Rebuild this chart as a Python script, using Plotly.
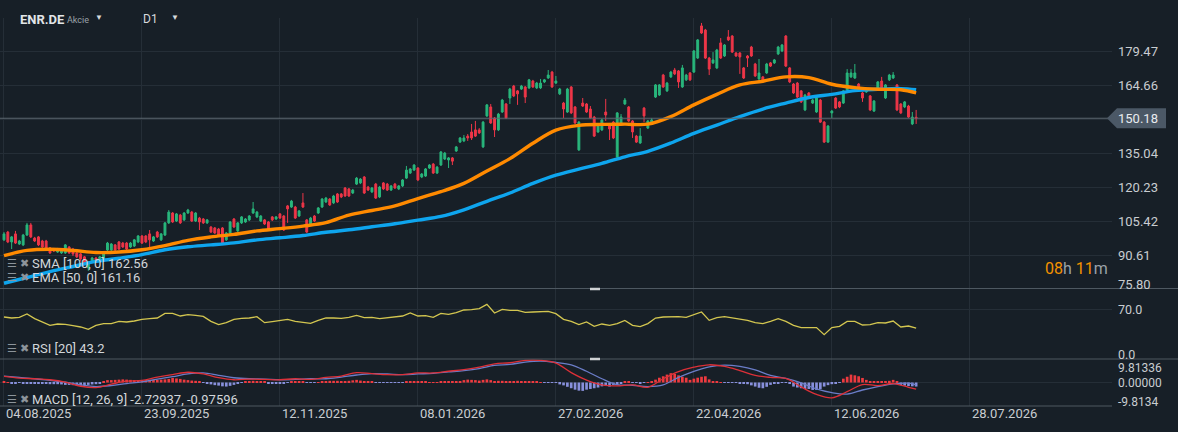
import plotly.graph_objects as go

# ENR.DE daily bars, bar 0 = 04.08.2025
open_ = [97.2, 100.6, 96.3, 99.8, 95.4, 95.0, 99.3, 103.7, 98.0, 98.5,
         96.7, 96.7, 93.7, 93.2, 91.9, 91.5, 91.5, 94.1, 93.2, 91.5,
         91.1, 89.8, 85.0, 87.6, 89.3, 88.0, 88.9, 92.8, 92.8, 95.0,
         96.3, 95.8, 95.8, 94.1, 94.5, 96.3, 98.9, 98.9, 99.8, 96.7,
         100.6, 97.2, 99.3, 104.6, 108.9, 105.4, 108.0, 105.9, 108.9, 109.3,
         105.4, 106.7, 106.3, 104.6, 102.8, 102.4, 101.9, 102.4, 97.2, 100.2,
         106.3, 101.1, 104.6, 105.0, 105.9, 108.9, 107.2, 105.4, 105.9, 105.0,
         107.2, 106.3, 108.5, 107.6, 112.0, 111.5, 111.5, 107.6, 113.3, 105.9,
         104.1, 107.6, 108.9, 111.5, 113.7, 115.0, 113.3, 117.2, 117.2, 119.8,
         119.4, 117.6, 121.5, 122.0, 124.6, 120.2, 118.1, 121.5, 115.9, 122.0,
         121.5, 118.9, 121.5, 119.4, 120.7, 124.1, 126.3, 127.6, 128.5, 124.6,
         125.0, 128.5, 130.2, 126.3, 129.8, 132.4, 132.0, 132.9, 135.9, 139.8,
         140.3, 142.4, 144.2, 145.1, 145.1, 137.7, 151.2, 155.1, 150.3, 145.1,
         152.9, 156.4, 159.0, 164.2, 162.1, 162.9, 163.8, 163.4, 166.4, 163.4,
         163.4, 166.0, 167.7, 170.3, 165.5, 160.8, 156.8, 152.9, 163.8, 155.1,
         136.4, 156.8, 156.4, 154.2, 150.7, 144.2, 145.1, 152.9, 146.8, 148.5,
         133.3, 148.1, 156.4, 155.1, 149.0, 142.4, 139.4, 154.6, 145.9, 148.1,
         159.4, 160.3, 169.0, 162.1, 168.2, 171.2, 170.8, 163.8, 166.9, 169.9,
         170.3, 176.4, 190.4, 188.6, 176.4, 174.3, 172.1, 183.0, 177.3, 185.6,
         186.0, 178.6, 178.6, 172.1, 177.3, 181.2, 173.8, 167.3, 168.2, 169.9,
         174.3, 174.3, 178.2, 179.5, 186.0, 172.1, 165.1, 165.5, 162.1, 153.8,
         161.2, 156.8, 152.9, 158.1, 148.5, 139.8, 152.5, 159.0, 157.3, 156.8,
         162.5, 168.2, 167.7, 165.1, 161.2, 161.6, 159.9, 153.3, 163.4, 166.4,
         159.0, 166.9, 167.7, 164.7, 156.4, 155.1, 155.5, 147.7, 150.6]
high_ = [100.6, 101.1, 98.9, 101.1, 97.2, 99.8, 104.6, 104.6, 98.5, 98.9,
         97.2, 97.2, 94.1, 93.7, 93.7, 93.2, 95.4, 94.5, 93.7, 91.9,
         91.5, 90.2, 88.0, 89.8, 89.8, 90.2, 91.9, 96.3, 95.8, 95.4,
         96.7, 96.3, 96.3, 96.3, 97.6, 99.3, 99.3, 99.3, 101.5, 98.9,
         101.1, 100.2, 105.0, 110.2, 109.3, 108.9, 108.5, 109.3, 110.7, 109.8,
         109.3, 107.2, 106.7, 106.3, 103.2, 102.8, 102.4, 102.8, 100.6, 105.4,
         106.7, 105.0, 107.6, 106.7, 108.0, 113.7, 109.8, 108.0, 106.3, 105.4,
         107.6, 107.6, 108.9, 108.0, 112.4, 114.6, 112.0, 110.2, 117.6, 106.3,
         107.2, 108.0, 111.5, 115.4, 115.9, 115.4, 116.8, 117.6, 117.6, 120.2,
         119.8, 119.4, 124.6, 124.1, 125.0, 120.7, 120.2, 122.0, 120.7, 122.4,
         122.0, 121.1, 122.0, 121.1, 123.7, 129.4, 128.5, 130.2, 128.9, 126.3,
         128.5, 130.2, 130.7, 129.4, 135.9, 135.5, 133.3, 133.3, 138.1, 142.0,
         142.9, 143.3, 147.7, 149.0, 145.9, 149.0, 156.4, 156.4, 150.7, 152.5,
         158.6, 156.8, 163.4, 164.7, 162.5, 164.7, 164.2, 167.3, 166.9, 166.0,
         167.3, 167.3, 171.2, 170.8, 168.6, 163.4, 157.3, 163.4, 164.2, 155.5,
         149.0, 159.0, 156.8, 155.5, 151.2, 147.2, 149.9, 158.6, 147.2, 149.0,
         152.9, 152.0, 159.0, 155.5, 149.4, 142.9, 145.9, 155.1, 149.4, 150.3,
         165.1, 165.1, 169.5, 166.0, 170.8, 172.1, 171.2, 173.4, 169.5, 170.3,
         179.9, 184.7, 191.7, 189.1, 176.9, 179.0, 180.4, 185.1, 182.5, 188.6,
         186.4, 179.0, 179.0, 172.5, 177.7, 181.7, 174.3, 176.0, 168.6, 174.3,
         174.7, 176.0, 181.7, 182.5, 186.4, 172.5, 165.5, 166.0, 162.5, 160.8,
         161.6, 158.6, 159.4, 158.6, 149.0, 147.2, 153.8, 159.4, 157.7, 162.5,
         171.6, 171.6, 173.8, 165.5, 161.6, 163.4, 160.3, 158.1, 166.4, 168.2,
         165.1, 169.5, 170.3, 165.1, 156.8, 157.7, 156.0, 152.9, 153.8]
low_ = [96.7, 95.8, 93.2, 95.4, 95.0, 94.5, 98.9, 98.0, 96.3, 94.5,
        93.7, 93.2, 91.1, 91.9, 91.5, 91.1, 91.1, 91.1, 90.2, 89.3,
        88.0, 86.7, 83.7, 87.1, 87.1, 87.6, 88.4, 92.4, 92.4, 92.4,
        92.8, 93.7, 91.9, 93.7, 94.1, 95.8, 95.4, 95.8, 93.7, 96.3,
        98.0, 96.7, 98.9, 104.1, 104.6, 105.0, 104.1, 105.4, 108.5, 105.0,
        105.0, 101.5, 104.1, 104.1, 100.2, 99.8, 98.9, 95.0, 96.7, 99.8,
        102.4, 100.6, 104.1, 104.6, 105.4, 108.5, 106.7, 105.0, 103.7, 101.5,
        105.4, 105.9, 106.3, 101.1, 104.6, 111.1, 106.3, 107.2, 111.1, 100.2,
        103.7, 105.0, 108.5, 111.1, 113.3, 112.0, 112.8, 113.3, 115.4, 115.9,
        115.9, 117.2, 121.1, 121.5, 117.2, 118.5, 117.6, 115.0, 115.4, 118.9,
        118.5, 118.5, 119.4, 118.9, 120.2, 123.7, 125.9, 127.2, 122.8, 124.1,
        124.6, 128.1, 125.9, 125.9, 129.4, 132.0, 128.5, 129.8, 135.5, 139.4,
        139.8, 140.3, 140.7, 142.0, 143.3, 137.2, 150.7, 147.7, 142.0, 144.6,
        152.5, 149.9, 156.4, 159.4, 156.0, 162.5, 156.8, 162.9, 163.4, 162.9,
        162.9, 165.5, 167.3, 163.4, 165.1, 160.3, 150.3, 152.5, 152.0, 147.7,
        135.9, 155.1, 152.5, 149.9, 142.0, 143.8, 144.6, 149.0, 140.7, 141.1,
        132.9, 147.7, 156.0, 148.5, 141.6, 139.4, 139.0, 148.5, 145.5, 147.7,
        159.0, 159.9, 163.4, 161.6, 167.7, 169.0, 163.4, 163.4, 166.4, 166.4,
        169.9, 176.0, 186.9, 176.0, 169.0, 173.8, 171.6, 176.0, 176.9, 183.8,
        178.6, 176.9, 169.5, 167.3, 172.5, 176.9, 168.2, 166.9, 166.4, 169.5,
        172.5, 173.8, 177.7, 179.0, 172.5, 165.5, 160.8, 159.0, 156.8, 153.3,
        158.6, 156.4, 152.5, 148.1, 139.4, 139.4, 150.3, 154.2, 154.6, 156.4,
        162.1, 167.7, 167.3, 162.9, 157.3, 161.2, 153.3, 152.9, 162.9, 162.5,
        158.6, 166.4, 167.3, 153.3, 152.0, 154.6, 150.3, 147.2, 147.7]
close_ = [99.8, 96.3, 98.5, 95.8, 96.7, 99.3, 103.7, 98.5, 96.7, 95.0,
          94.1, 93.7, 91.5, 92.4, 93.2, 92.8, 95.0, 91.5, 91.1, 89.8,
          88.9, 87.1, 87.6, 89.3, 87.6, 89.8, 91.5, 95.8, 95.4, 92.8,
          93.2, 94.1, 93.2, 95.8, 97.2, 98.9, 95.8, 96.3, 97.2, 98.5,
          98.5, 99.8, 104.6, 109.3, 105.0, 108.5, 104.6, 108.9, 110.2, 105.4,
          108.9, 105.0, 104.6, 105.9, 100.6, 100.2, 99.3, 95.8, 100.2, 105.0,
          102.8, 104.6, 107.2, 106.3, 107.6, 110.7, 109.3, 107.6, 104.1, 101.9,
          105.9, 107.2, 106.7, 101.5, 110.7, 114.1, 106.7, 109.8, 111.5, 100.6,
          106.7, 105.4, 111.1, 115.0, 115.4, 112.4, 116.3, 113.7, 115.9, 116.3,
          116.3, 118.9, 124.1, 123.7, 117.6, 118.9, 119.8, 115.4, 120.2, 119.4,
          118.9, 120.7, 119.8, 120.7, 123.3, 127.6, 128.1, 129.8, 123.3, 125.9,
          128.1, 129.8, 126.3, 128.9, 135.5, 135.0, 132.9, 131.5, 137.7, 141.6,
          141.6, 141.6, 141.6, 142.4, 143.8, 148.5, 156.0, 148.1, 145.1, 152.0,
          158.1, 150.3, 162.9, 159.9, 160.8, 164.2, 159.4, 166.9, 163.8, 165.5,
          165.5, 166.9, 169.0, 163.8, 166.4, 162.9, 154.2, 162.9, 152.5, 148.1,
          148.5, 155.5, 152.9, 150.3, 142.4, 146.8, 149.4, 151.6, 145.5, 141.6,
          152.5, 150.7, 158.1, 149.0, 144.2, 139.8, 142.4, 151.2, 149.0, 149.4,
          164.7, 164.7, 163.8, 165.5, 170.3, 169.5, 166.0, 172.1, 169.0, 166.9,
          179.5, 184.3, 187.3, 176.4, 171.6, 175.6, 179.9, 176.4, 182.1, 184.3,
          179.0, 177.3, 176.9, 167.7, 176.4, 177.3, 168.6, 169.9, 166.9, 173.8,
          172.9, 175.6, 181.2, 182.1, 172.9, 166.0, 161.2, 159.4, 157.3, 160.3,
          159.0, 158.1, 159.0, 148.5, 139.8, 146.8, 153.3, 154.6, 155.1, 162.1,
          169.9, 169.9, 169.9, 163.4, 159.0, 162.9, 153.8, 157.7, 166.0, 162.9,
          164.7, 169.0, 169.0, 153.8, 152.5, 157.3, 150.7, 150.7, 150.18]

# moving averages, read every 6 bars
ma_bars = list(range(0, 235, 6)) + [238]
sma100 = [78.3, 80.8, 83.4, 85.6, 87.8, 89.2, 90.8, 92.9, 94.2, 95.0,
          95.9, 97.2, 98.1, 99.1, 100.5, 101.6, 102.9, 104.2, 105.8, 107.4,
          110.3, 114.0, 117.6, 121.8, 125.4, 128.0, 130.5, 133.4, 135.8, 139.4,
          143.6, 147.2, 150.9, 154.2, 156.8, 159.2, 160.6, 162.2, 162.8, 163.1,
          162.6]
ema50 = [90.3, 92.6, 93.1, 92.6, 91.7, 91.9, 92.9, 94.7, 97.0, 98.5,
         99.6, 101.1, 102.1, 103.2, 104.7, 108.0, 110.0, 112.0, 115.2, 118.2,
         121.8, 127.2, 132.6, 139.3, 145.0, 147.1, 147.5, 147.6, 147.6, 150.9,
         156.0, 160.6, 164.7, 166.3, 168.2, 167.9, 165.0, 163.5, 162.8, 162.6,
         161.2]

# RSI(20), read every 2 bars
rsi_bars = list(range(0, 239, 2))
rsi20 = [58.8, 57.4, 58.3, 63.0, 56.5, 51.8, 47.1, 49.0, 48.5, 46.7,
         44.8, 41.5, 47.1, 49.5, 49.5, 52.7, 51.8, 53.2, 55.5, 56.5,
         57.4, 63.9, 63.9, 60.2, 62.1, 61.1, 59.7, 52.7, 48.1, 50.9,
         55.5, 57.0, 57.4, 59.3, 50.9, 52.3, 53.7, 55.5, 52.7, 50.9,
         49.9, 54.1, 57.4, 57.4, 57.0, 58.3, 61.1, 57.9, 58.3, 56.5,
         57.9, 58.3, 60.2, 64.4, 60.2, 60.7, 58.3, 63.9, 62.5, 64.9,
         68.6, 69.1, 70.5, 76.5, 64.4, 69.5, 68.1, 68.1, 65.3, 65.8,
         65.8, 66.7, 63.5, 55.5, 52.7, 48.1, 51.8, 45.7, 49.0, 47.1,
         49.5, 54.1, 47.1, 45.3, 49.5, 57.4, 58.8, 59.3, 59.3, 58.3,
         62.5, 65.8, 54.1, 57.9, 59.3, 57.4, 55.5, 54.1, 50.9, 49.5,
         52.7, 56.5, 52.7, 47.1, 43.9, 43.9, 43.9, 34.1, 43.9, 45.7,
         52.7, 52.7, 47.6, 48.1, 50.9, 50.4, 53.2, 44.8, 46.2, 43.2]

# MACD(12, 26, 9): lines read every 4 bars, histogram per bar
macd_bars = list(range(0, 237, 4)) + [238]
macd_line = [2.56, 1.85, 1.56, 1.14, 0.14, -1.56, -2.13, -0.71, 0.57, 0.85,
             2.28, 3.27, 4.27, 3.56, 1.99, 1.14, 1.42, 1.28, 1.14, 1.56,
             1.28, 2.13, 2.70, 4.13, 3.70, 3.27, 3.27, 3.98, 3.98, 4.69,
             5.41, 6.40, 7.82, 8.25, 9.25, 9.25, 8.11, 4.13, 1.0, -1.0,
             -1.42, -1.0, -1.99, 1.56, 4.55, 6.40, 7.40, 6.69, 4.98, 2.99,
             2.13, 1.71, -1.85, -4.98, -6.40, -3.84, -0.85, -1.28, -0.43, -1.99,
             -2.73]
signal_line = [2.70, 2.13, 1.56, 0.85, 0.14, -1.0, -1.71, -1.28, -0.43, 0.28,
               1.42, 2.42, 3.56, 3.98, 2.99, 1.99, 1.56, 1.42, 1.14, 1.28,
               1.56, 1.56, 2.28, 3.13, 3.70, 3.56, 3.27, 3.56, 3.84, 4.41,
               4.98, 5.83, 7.11, 7.54, 8.53, 8.96, 8.39, 7.40, 4.69, 1.56,
               -0.9, -1.14, -1.71, -1.0, 2.13, 4.69, 6.54, 7.25, 6.69, 5.26,
               2.99, 1.71, -0.14, -2.70, -4.27, -4.84, -3.13, -1.71, -0.57, -0.28,
               -0.98]
macd_hist = [0.4, 0.2, -0.3, -0.3, -0.2, -0.3, -0.3, -0.3, -0.4, -0.5,
             -0.5, -0.6, -0.7, -0.7, -0.7, -0.8, -1.0, -1.0, -1.1, -1.2,
             -1.3, -1.2, -1.0, -0.8, -0.7, -0.5, 0.3, 1.0, 1.0, 1.1,
             1.2, 1.3, 1.2, 1.1, 1.0, 1.0, 1.0, 1.0, 1.0, 1.1,
             1.1, 1.2, 1.3, 1.5, 1.9, 1.7, 1.5, 1.2, 1.0, 0.8,
             0.7, 0.4, -0.2, -0.5, -0.8, -1.1, -1.3, -1.6, -1.7, -1.4,
             -1.0, -0.4, -0.2, 0.4, 0.6, 0.7, 0.6, 0.5, 0.3, -0.3,
             -0.4, -0.4, -0.4, -0.3, -0.2, 0.3, 0.4, 0.4, 0.4, -0.1,
             -0.2, -0.1, 0.2, 0.4, 0.6, 0.7, 0.7, 0.7, 0.6, 0.6,
             0.7, 0.9, 1.1, 0.8, 0.6, 0.4, 0.3, -0.1, -0.2, -0.2,
             -0.1, -0.2, -0.1, -0.2, -0.1, 0.4, 0.4, 0.4, 0.3, 0.4,
             0.3, 0.2, 0.1, 0.2, 0.4, 0.4, 0.4, 0.3, 0.4, 0.6,
             1.0, 1.2, 1.1, 1.0, 0.8, 1.1, 1.3, 1.0, 0.5, 0.7,
             0.7, 0.6, 0.6, 0.5, 0.7, 0.6, 0.6, 0.5, 0.4, 0.3,
             0.1, -0.1, -0.1, -0.2, -0.2, -0.8, -1.2, -1.8, -2.4, -3.0,
             -3.4, -3.5, -3.0, -2.7, -2.4, -2.1, -1.6, -1.3, -1.7, -1.0,
             -0.8, -0.5, 0.4, 0.3, -0.1, -0.2, -0.3, -0.1, 0.1, 0.6,
             1.2, 2.0, 2.6, 3.3, 3.9, 3.6, 3.0, 2.4, 2.0, 1.1,
             1.6, 2.0, 2.4, 2.6, 1.3, 0.5, 0.3, 0.1, -0.1, -0.1,
             -0.2, -0.2, -0.3, -0.4, -0.7, -1.2, -1.7, -2.2, -2.4, -1.8,
             -1.0, -0.6, -0.3, -0.1, -0.1, -0.6, -1.7, -2.1, -2.4, -2.7,
             -2.7, -3.1, -3.1, -2.7, -1.7, -1.1, -0.7, -0.4, -0.2, 1.6,
             2.4, 3.3, 3.0, 2.6, 1.9, 1.1, 0.4, 0.4, 0.4, 0.4,
             0.5, 0.7, 1.1, 0.6, -1.0, -1.3, -1.5, -1.6, -1.7]

tick_bars = [0, 36, 72, 108, 144, 180, 216, 252]
tick_dates = ["04.08.2025", "23.09.2025", "12.11.2025", "08.01.2026",
              "27.02.2026", "22.04.2026", "12.06.2026", "28.07.2026"]
price_ticks = [75.80, 90.61, 105.42, 120.23, 135.04, 149.85, 164.66, 179.47]
rsi_ticks = [0.0, 70.0]
macd_ticks = [-9.8134, 0.0, 9.81336]
macd_tick_text = ["-9.8134", "0.00000", "9.81336"]
last_price = 150.18

BG = "#171f27"
GRID = "#252e37"
SEP = "#4e5861"
TXT = "#c9cdd1"
DIM = "#8c949b"
GREEN = "#29b67c"
RED = "#ee3648"
FONT = "Roboto"

bars = list(range(len(close_)))

fig = go.Figure()
fig.add_trace(go.Candlestick(
    x=bars, open=open_, high=high_, low=low_, close=close_,
    increasing=dict(line=dict(color=GREEN, width=1), fillcolor=GREEN),
    decreasing=dict(line=dict(color=RED, width=1), fillcolor=RED),
    whiskerwidth=0, xaxis="x", yaxis="y", hoverinfo="skip"))
fig.add_trace(go.Scatter(x=ma_bars, y=sma100, mode="lines", line_shape="spline",
                         line=dict(color="#0ea5ee", width=3.4), yaxis="y"))
fig.add_trace(go.Scatter(x=ma_bars, y=ema50, mode="lines", line_shape="spline",
                         line=dict(color="#ff8a00", width=3.4), yaxis="y"))
fig.add_trace(go.Scatter(x=rsi_bars, y=rsi20, mode="lines",
                         line=dict(color="#d3c650", width=1.3), yaxis="y2"))
fig.add_trace(go.Bar(x=bars, y=macd_hist, yaxis="y3",
                     marker=dict(color=["#ee3a3f" if v >= 0 else "#8890dc" for v in macd_hist],
                                 line=dict(width=0))))
fig.add_trace(go.Scatter(x=macd_bars, y=signal_line, mode="lines", line_shape="spline",
                         line=dict(color="#6b7dc8", width=1.3), yaxis="y3"))
fig.add_trace(go.Scatter(x=macd_bars, y=macd_line, mode="lines", line_shape="spline",
                         line=dict(color="#dd3038", width=1.3), yaxis="y3"))

W, H = 1178, 432
PLOT_W = 1112


def py(px):
    # paper y for a pixel row measured from the top
    return 1 - px / H


def pxx(px):
    return px / PLOT_W


axis_common = dict(showticklabels=False, gridcolor=GRID, gridwidth=1, zeroline=False,
                   showline=False, ticks="", fixedrange=True)
fig.update_layout(
    width=W, height=H,
    margin=dict(l=0, r=W - PLOT_W, t=0, b=0),
    paper_bgcolor=BG, plot_bgcolor=BG,
    showlegend=False, bargap=0.3,
    font=dict(family=FONT, color=TXT, size=13),
    xaxis=dict(axis_common, domain=[0, 1], range=[-1.04, 289.1], anchor="y3",
               tickvals=tick_bars, showgrid=True, rangeslider=dict(visible=False)),
    yaxis=dict(axis_common, domain=[py(289), py(18)], range=[75.80, 193.85],
               tickvals=price_ticks, anchor="x"),
    yaxis2=dict(axis_common, domain=[py(359), py(289)], range=[0, 98],
                tickvals=rsi_ticks, anchor="x"),
    yaxis3=dict(axis_common, domain=[py(406), py(359)], range=[-9.8134, 9.81336],
                tickvals=macd_ticks, anchor="x"),
)

shapes = []
# panel separators
for ypx, x1 in [(288.5, W / PLOT_W), (359, W / PLOT_W), (406, 1)]:
    shapes.append(dict(type="line", xref="paper", yref="paper", x0=0, x1=x1,
                       y0=py(ypx), y1=py(ypx), line=dict(color=SEP, width=1.2)))
# resize handles
for ypx in [289, 359]:
    shapes.append(dict(type="line", xref="paper", yref="paper", x0=pxx(590), x1=pxx(600),
                       y0=py(ypx), y1=py(ypx), line=dict(color="#cfd2d4", width=2.5)))
# current price line and price tag
shapes.append(dict(type="line", xref="paper", yref="y", x0=0, x1=1, y0=last_price, y1=last_price,
                   line=dict(color="#5c6771", width=1.2)))
shapes.append(dict(type="path", xref="paper", yref="y", xsizemode="pixel", ysizemode="pixel",
                   xanchor=1, yanchor=last_price,
                   path="M -5,0 L 5,10 L 54,10 L 54,-10 L 5,-10 Z",
                   fillcolor="#4b5866", line=dict(width=0)))
fig.update_layout(shapes=shapes)

ann = []


def label(text, x, y, xref="paper", yref="paper", size=13, color=TXT, xanchor="left",
          xshift=0, yshift=0, **kw):
    ann.append(dict(text=text, x=x, y=y, xref=xref, yref=yref, showarrow=False,
                    xanchor=xanchor, yanchor="middle", xshift=xshift, yshift=yshift,
                    font=dict(family=FONT, size=size, color=color), **kw))


# header
label("<b>ENR.DE</b>", pxx(18), py(19), size=13, color="#e2e5e8")
label("Akcie", pxx(65), py(20), size=9, color="#9aa2a9")
label("▼", pxx(93), py(17), size=8, color="#d6d9dc")
label("D1", pxx(141), py(19), size=12, color="#d6d9dc")
label("▼", pxx(169), py(17), size=8, color="#d6d9dc")

# indicator legends
for text, ypx in [("SMA [100, 0] 162.56", 263.5), ("EMA [50, 0] 161.16", 277.5),
                  ("RSI [20] 43.2", 348.5), ("MACD [12, 26, 9] -2.72937, -0.97596", 399.5)]:
    label("☰ ✖", pxx(5), py(ypx), size=11, color=DIM)
    label(text, pxx(30), py(ypx), size=13, color="#d2d6da")

# countdown to next bar
label('<span style="color:#f39200">08</span>h <span style="color:#f39200">11</span>m',
      1, py(268), size=16, color="#9aa2a9", xanchor="right", xshift=-2)

# right-hand scales
for v in price_ticks:
    if abs(v - last_price) < 3:
        continue
    label(f"{v:.2f}", 1, v, yref="y", xshift=4, yshift=5 if v == price_ticks[0] else 0)
label(f"{last_price:.2f}", 1, last_price, yref="y", xshift=4, color="#e8ebee")
for v in rsi_ticks:
    label(f"{v:.1f}", 1, v, yref="y2", xshift=4, size=12.5, yshift=5 if v == 0 else 0)
for v, t in zip(macd_ticks, macd_tick_text):
    label(t, 1, v, yref="y3", xshift=4, size=12,
          yshift=4 if v < 0 else (-9 if v > 0 else 0))

# date axis
for b, d in zip(tick_bars, tick_dates):
    label(d, b, py(413), xref="x", size=13)

fig.update_layout(annotations=ann)
fig.write_html("out.html", config={"displayModeBar": False},
               post_script="document.body.style.margin='0';document.body.style.overflow='hidden';")
